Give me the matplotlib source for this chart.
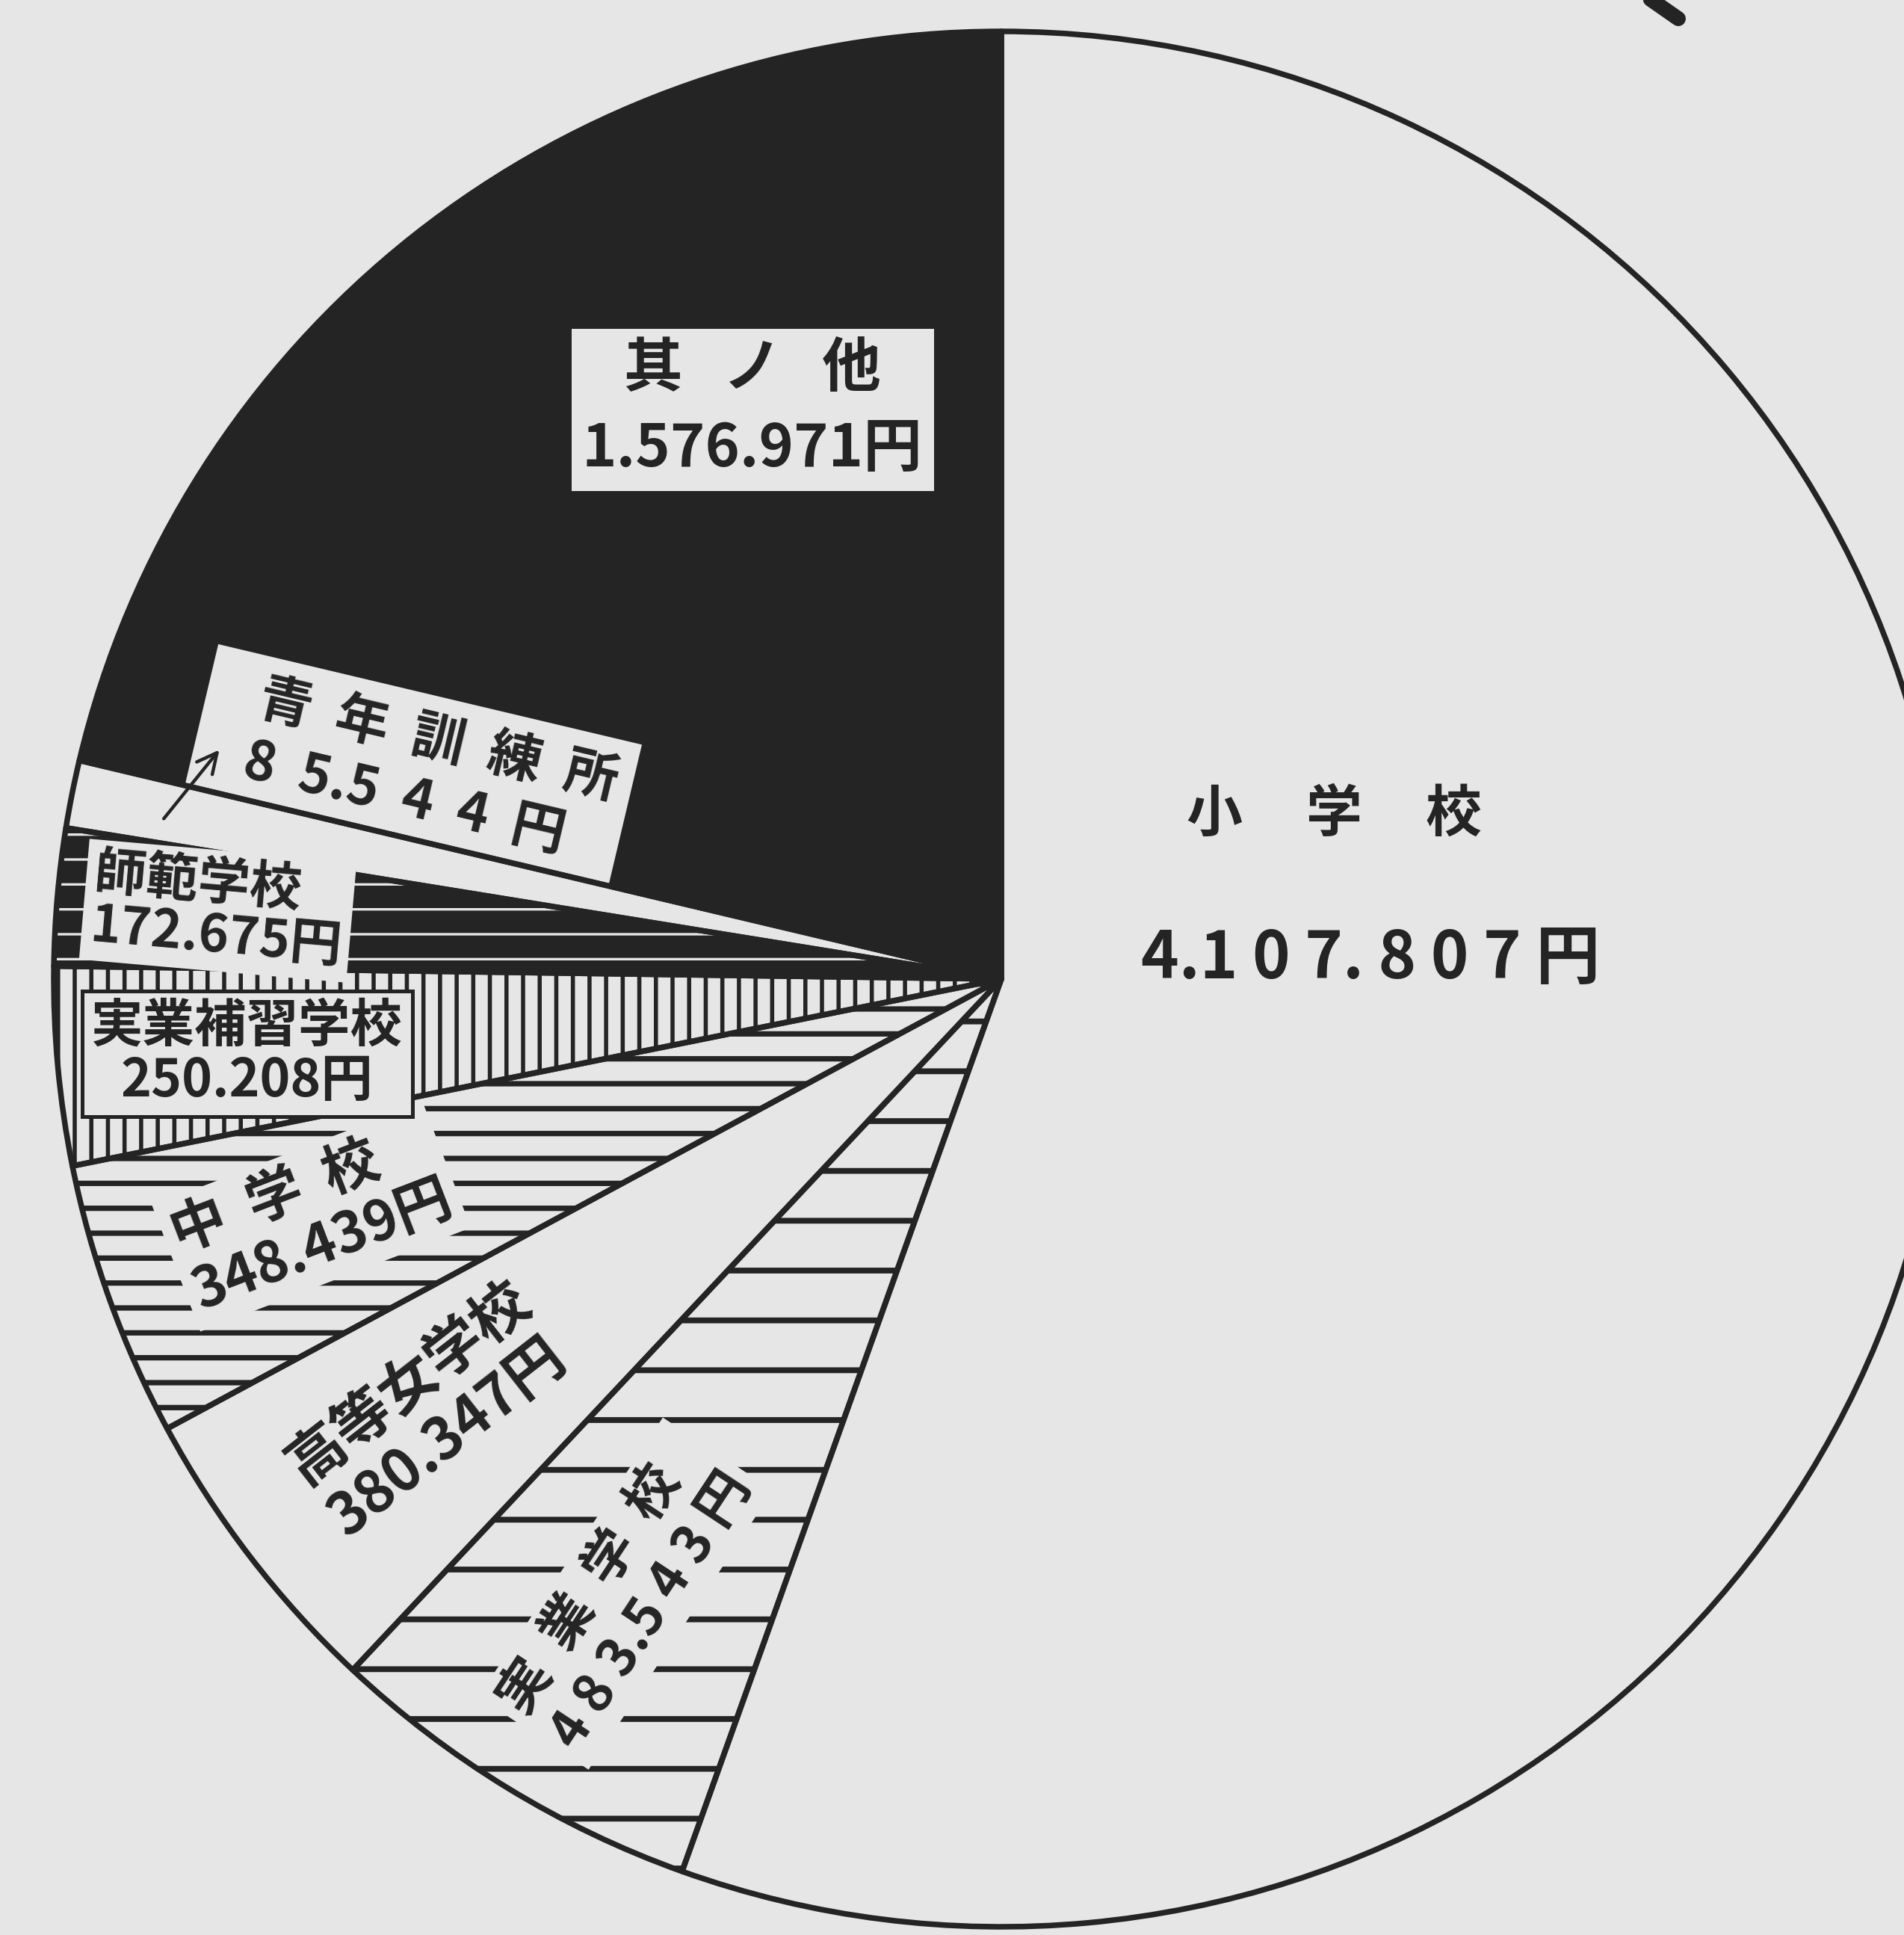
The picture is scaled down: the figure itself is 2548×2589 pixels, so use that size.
import matplotlib
matplotlib.use('Agg')
import matplotlib.pyplot as plt
from matplotlib.patches import Wedge
import numpy as np

# ---------------- data ----------------
categories = ['小学校', '実業学校', '高等女学校', '中学校',
              '実業補習学校', '師範学校', '青年訓練所', '其ノ他']
values = [4107807, 483543, 380347, 348439, 250208, 172675, 85544, 1576971]
unit = '円'

# ---------------- style ----------------
W, H, DPI = 2548, 2589, 400
BG = '#e6e6e6'
INK = '#242424'
fills = [BG, BG, BG, BG, BG, INK, BG, INK]
hatches = [None, '-', None, '--', '|||', '--', None, None]
hatch_colors = [INK, INK, INK, INK, INK, BG, INK, INK]
hatch_lws = [1.3, 1.4, 1.3, 1.3, 1.0, 0.6, 1.3, 1.3]

plt.rcParams['font.family'] = ['Noto Sans CJK JP', 'DejaVu Sans']
plt.rcParams['hatch.linewidth'] = 1.2

fig = plt.figure(figsize=(W / DPI, H / DPI), dpi=DPI, facecolor=BG)
ax = fig.add_axes([0, 0, 1, 1])
ax.set_facecolor(BG)
cx, cy, R = 1340, H - 1310, 1268

wedges, _ = ax.pie(values, startangle=90, counterclock=False,
                   center=(cx, cy), radius=R, colors=fills,
                   wedgeprops=dict(linewidth=0, zorder=1))
for w, h, hc, hl in zip(wedges, hatches, hatch_colors, hatch_lws):
    if h:
        w.set_edgecolor(hc)
        w.set_linewidth(0)
        w.set_hatch(h)
        if hasattr(w, 'set_hatch_linewidth'):
            w.set_hatch_linewidth(hl)

ax.pie(values, startangle=90, counterclock=False, center=(cx, cy), radius=R,
       wedgeprops=dict(fill=False, edgecolor=INK, linewidth=1.35,
                       joinstyle='round', zorder=4))


def fmt(v):
    return f'{v:,}'.replace(',', '.') + unit


def spaced(s, gap=' '):
    out = ''
    for i, ch in enumerate(s):
        out += ch
        if i < len(s) - 1 and ch != '.' and s[i + 1] != '.':
            out += gap
    return out


def polar(angle_deg, rf):
    a = np.deg2rad(angle_deg)
    return cx + rf * R * np.cos(a), cy + rf * R * np.sin(a)


def norm_rot(r):
    r = ((r + 180) % 360) - 180
    if r > 90:
        r -= 180
    if r < -90:
        r += 180
    return r


clear_box = dict(boxstyle='square,pad=0.15', fc=BG, ec='none')

# frac: position across the wedge (0 = its first edge clockwise, 1 = last)
specs = {
    '実業学校': dict(frac=0.5, rf=0.76, k=178, size=12.8, ma='left',
                 box=clear_box, ls=1.2, z=5, name=spaced('実業学校', '  '),
                 num=lambda v: spaced(fmt(v))),
    '高等女学校': dict(frac=0.53, rf=0.755, k=181, size=14.0, ma='left',
                  box=None, ls=1.15, z=5, name='高等女学校',
                  num=lambda v: fmt(v)),
    '中学校': dict(frac=0.55, rf=0.77, k=182, size=13.5, ma='left',
                box=clear_box, ls=1.1, z=5, name=spaced('中学校', '  '),
                num=lambda v: fmt(v)),
    '実業補習学校': dict(frac=0.47, rf=0.80, rot=0, size=12.5, ma='center',
                   box=dict(boxstyle='square,pad=0.18', fc=BG, ec=INK, lw=0.9),
                   ls=1.05, z=5, name='実業補習学校', num=lambda v: fmt(v)),
    '師範学校': dict(frac=0.5, rf=0.83, k=180, size=12.5, ma='left',
                 box=clear_box, ls=1.0, z=5, name='師範学校',
                 num=lambda v: fmt(v)),
    # label sits just outside its thin wedge, box resting on the wedge edge
    '青年訓練所': dict(extra=6.4, rf=0.66, edge=True, size=13.0, ma='left',
                  box=dict(boxstyle='square,pad=0.32', fc=BG, ec=INK, lw=0.9),
                  ls=1.2, z=3, name='   ' + spaced('青年訓練所', '  '),
                  num=lambda v: '   ' + spaced(fmt(v), '  ')),
}

for w, cat, val in zip(wedges, categories, values):
    start, end = w.theta2, w.theta1      # clockwise order
    mid = (start + end) / 2
    if cat == '小学校':
        x, y = polar(mid + 36.15, 0.392)
        ax.text(x, y, spaced(cat, '     '), fontsize=13.5, fontweight='bold',
                ha='center', va='center', color=INK)
        x, y = polar(mid + 12.85, 0.39)
        s = fmt(val)
        num = s[:3] + ' ' + s[3] + ' ' + s[4:6] + ' ' + ' '.join(s[6:])
        ax.text(x, y, num, fontsize=15.5, fontweight='bold',
                ha='center', va='center', color=INK)
        continue
    if cat == '其ノ他':
        # large wedge: label box placed in its upper part
        x, y = polar(113.6, 0.656)
        ax.text(x, y, spaced(cat, '   ') + '\n' + fmt(val), fontsize=14.2,
                fontweight='bold', ha='center', va='center',
                multialignment='center', color=INK, linespacing=1.45,
                bbox=dict(boxstyle='square,pad=0.22', fc=BG, ec=INK, lw=0.9),
                zorder=5)
        continue
    sp = specs[cat]
    if 'extra' in sp:
        ang = end - sp['extra']
    else:
        ang = start - sp['frac'] * (start - end)
    x, y = polar(ang, sp['rf'])
    if 'rot' in sp:
        rot = sp['rot']
    elif sp.get('edge'):
        rot = norm_rot(end - 180)
    else:
        rot = norm_rot(ang + sp['k'])
    ax.text(x, y, sp['name'] + '\n' + sp['num'](val), fontsize=sp['size'],
            fontweight='bold', ha='center', va='center', rotation=rot,
            rotation_mode='anchor', multialignment=sp['ma'], color=INK,
            linespacing=sp['ls'], bbox=sp['box'], zorder=sp['z'])
    if cat == '青年訓練所':
        # repaint the thin wedge over the lower edge of its label box
        ax.add_patch(Wedge(w.center, w.r, w.theta1, w.theta2,
                           facecolor=BG, edgecolor='none', zorder=3.5))
        tail = polar(end + 2.5, 0.90)
        head = polar(end - 3.0, 0.86)
        ax.annotate('', xy=head, xytext=tail, zorder=6,
                    arrowprops=dict(arrowstyle='->', lw=0.8, color=INK,
                                    mutation_scale=12, shrinkA=0, shrinkB=0))

# fragment of a stroke at the top edge of the page
ax.plot([2203, 2246], [H + 5, H - 25], color=INK, lw=3.6,
        solid_capstyle='round')

ax.set_xlim(0, W)
ax.set_ylim(0, H)
ax.set_aspect('auto')
ax.axis('off')
fig.savefig('out.png', dpi=DPI, facecolor=BG)
